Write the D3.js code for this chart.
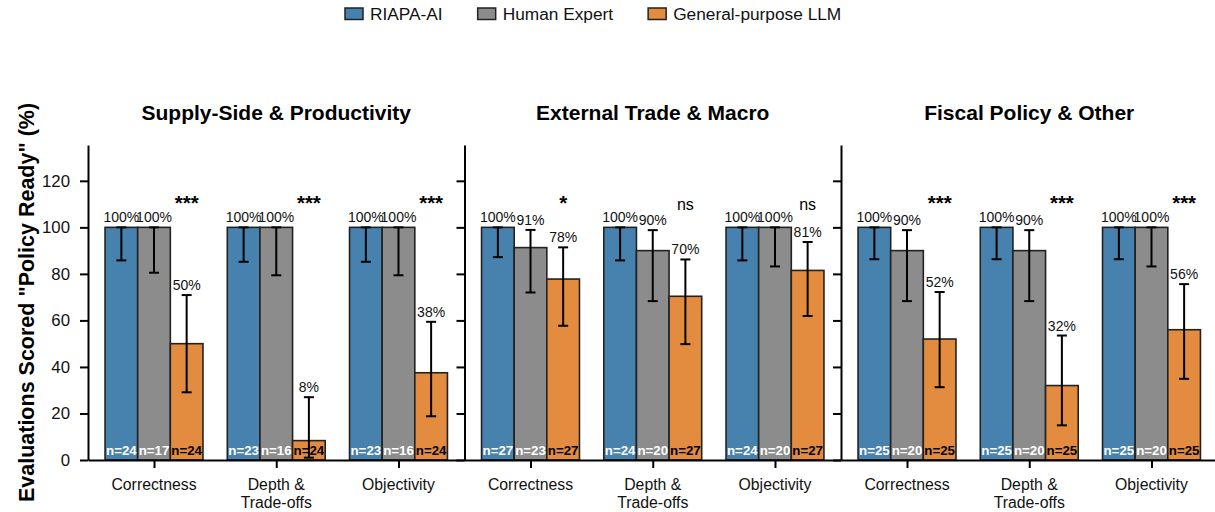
<!DOCTYPE html>
<html>
<head>
<meta charset="utf-8">
<script src="https://cdn.jsdelivr.net/npm/d3@7"></script>
<style>
  body { margin: 0; background: #fff; }
  svg { font-family: "Liberation Sans", Arial, sans-serif; }
</style>
</head>
<body>
<div id="chart-container"></div>
<script>
// panels, categories and series
const groups = ["Supply-Side & Productivity", "External Trade & Macro", "Fiscal Policy & Other"];
const criteria = ["Correctness", "Depth & Trade-offs", "Objectivity"];
const series = ["RIAPA-AI", "Human Expert", "General-purpose LLM"];
const colors = ["#4782AF", "#8C8C8C", "#E38C3F"];

// % scored "policy ready": rows = panel, cols = criterion
const riapaPct = [[100, 100, 100], [100, 100, 100], [100, 100, 100]];
const humanPct = [[100, 100, 100], [91.3, 90, 100], [90, 90, 100]];
const llmPct   = [[50, 8.33, 37.5], [77.78, 70.37, 81.48], [52, 32, 56]];

// 95% interval ends
const riapaLo = [[85.8, 85.2, 85.2], [87.2, 85.8, 85.8], [86.3, 86.3, 86.3]];
const riapaHi = [[100, 100, 100], [100, 100, 100], [100, 100, 100]];
const humanLo = [[80.5, 79.4, 79.4], [72.0, 68.3, 83.2], [68.3, 68.3, 83.2]];
const humanHi = [[100, 100, 100], [98.9, 98.8, 100], [98.8, 98.8, 100]];
const llmLo   = [[29.1, 1.0, 18.8], [57.7, 49.8, 61.9], [31.3, 14.9, 34.9]];
const llmHi   = [[70.9, 27.0, 59.4], [91.4, 86.2, 93.7], [72.2, 53.5, 75.6]];

// sample sizes
const riapaN = [[24, 23, 23], [27, 24, 24], [25, 25, 25]];
const humanN = [[17, 16, 16], [23, 20, 20], [20, 20, 20]];
const llmN   = [[24, 24, 24], [27, 27, 27], [25, 25, 25]];

// significance markers
const sig = [["***", "***", "***"], ["*", "ns", "ns"], ["***", "***", "***"]];

const yTicks = [0, 20, 40, 60, 80, 100, 120];

const width = 1215, height = 512;
const panelW = 376.5, left0 = 88, plotTop = 145, plotBottom = 460;
const barW = 0.267;

const pct = [riapaPct, humanPct, llmPct];
const lo = [riapaLo, humanLo, llmLo];
const hi = [riapaHi, humanHi, llmHi];
const ns = [riapaN, humanN, llmN];

const svg = d3.select("#chart-container").append("svg")
    .attr("width", width)
    .attr("height", height);

const y = d3.scaleLinear().domain([0, 135.4]).range([plotBottom, plotTop]);

groups.forEach(function (g, p) {
    const x0 = left0 + p * panelW;
    const x = d3.scaleLinear().domain([-0.54, 2.54]).range([x0, x0 + panelW]);
    const panel = svg.append("g");

    // bars, error bars, labels
    criteria.forEach(function (c, ci) {
        series.forEach(function (s, si) {
            const cx = x(ci + (si - 1) * barW);
            const v = pct[si][p][ci];
            const bx = x(ci + (si - 1) * barW - barW / 2);
            const bw = x(barW) - x(0);
            panel.append("rect")
                .attr("x", bx)
                .attr("y", y(v))
                .attr("width", bw)
                .attr("height", y(0) - y(v))
                .attr("fill", colors[si])
                .attr("stroke", "#222")
                .attr("stroke-width", 1.6);

            const eLo = lo[si][p][ci], eHi = hi[si][p][ci];
            panel.append("line")
                .attr("x1", cx).attr("x2", cx)
                .attr("y1", y(eLo)).attr("y2", y(eHi))
                .attr("stroke", "#000").attr("stroke-width", 2);
            [eLo, eHi].forEach(function (e) {
                panel.append("line")
                    .attr("x1", cx - 5).attr("x2", cx + 5)
                    .attr("y1", y(e)).attr("y2", y(e))
                    .attr("stroke", "#000").attr("stroke-width", 2);
            });

            panel.append("text")
                .attr("x", cx)
                .attr("y", y(eHi) - 5)
                .attr("text-anchor", "middle")
                .attr("font-size", "14px")
                .attr("fill", "#111")
                .text(Math.round(v) + "%");

            panel.append("text")
                .attr("x", cx)
                .attr("y", 455)
                .attr("text-anchor", "middle")
                .attr("font-size", "13.3px")
                .attr("font-weight", "bold")
                .attr("fill", si === 2 ? "#000" : "#fff")
                .text("n=" + ns[si][p][ci]);
        });

        const m = sig[p][ci];
        panel.append("text")
            .attr("x", x(ci + barW))
            .attr("y", y(107.3))
            .attr("text-anchor", "middle")
            .attr("font-size", m === "ns" ? "16px" : "20.5px")
            .attr("font-weight", m === "ns" ? "normal" : "bold")
            .attr("fill", "#000")
            .text(m);
    });

    // y axis
    const yAxis = d3.axisLeft(y)
        .tickValues(yTicks)
        .tickSize(8)
        .tickSizeOuter(0)
        .tickPadding(10)
        .tickFormat(p === 0 ? d3.format("d") : "");
    const ya = panel.append("g")
        .attr("transform", "translate(" + x0 + ",0)")
        .call(yAxis);
    ya.select(".domain").attr("stroke", "#000").attr("stroke-width", 2);
    ya.selectAll(".tick line").attr("stroke", "#000").attr("stroke-width", 2);
    ya.selectAll(".tick text").attr("font-size", "16.8px").attr("fill", "#111")
        .attr("font-family", "Liberation Sans, Arial, sans-serif");

    // x axis
    const xAxis = d3.axisBottom(x)
        .tickValues([0, 1, 2])
        .tickSize(8)
        .tickSizeOuter(0)
        .tickFormat("");
    const xa = panel.append("g")
        .attr("transform", "translate(0," + plotBottom + ")")
        .call(xAxis);
    xa.select(".domain").attr("stroke", "#000").attr("stroke-width", 2);
    xa.selectAll(".tick line").attr("stroke", "#000").attr("stroke-width", 2);

    criteria.forEach(function (c, ci) {
        const lines = c === "Depth & Trade-offs" ? ["Depth &", "Trade-offs"] : [c];
        lines.forEach(function (l, li) {
            panel.append("text")
                .attr("x", x(ci))
                .attr("y", 490 + li * 17.5)
                .attr("text-anchor", "middle")
                .attr("font-size", "15.8px")
                .attr("fill", "#111")
                .text(l);
        });
    });

    // panel title
    panel.append("text")
        .attr("x", x0 + panelW / 2)
        .attr("y", 120)
        .attr("text-anchor", "middle")
        .attr("font-size", "21px")
        .attr("font-weight", "bold")
        .attr("fill", "#000")
        .text(g);
});

// y axis label
svg.append("text")
    .attr("transform", "translate(34," + (plotTop + plotBottom) / 2 + ") rotate(-90)")
    .attr("text-anchor", "middle")
    .attr("font-size", "21.5px")
    .attr("font-weight", "bold")
    .attr("fill", "#000")
    .text("Evaluations Scored \"Policy Ready\" (%)");

// legend
const legend = svg.append("g");
let lx = 345;
series.forEach(function (s, si) {
    legend.append("rect")
        .attr("x", lx).attr("y", 8)
        .attr("width", 18).attr("height", 11.5)
        .attr("fill", colors[si])
        .attr("stroke", "#222").attr("stroke-width", 1.5);
    const t = legend.append("text")
        .attr("x", lx + 25)
        .attr("y", 19.5)
        .attr("font-size", "17.3px")
        .attr("fill", "#111")
        .text(s);
    lx += 25 + t.node().getComputedTextLength() + 35;
});
</script>
</body>
</html>
